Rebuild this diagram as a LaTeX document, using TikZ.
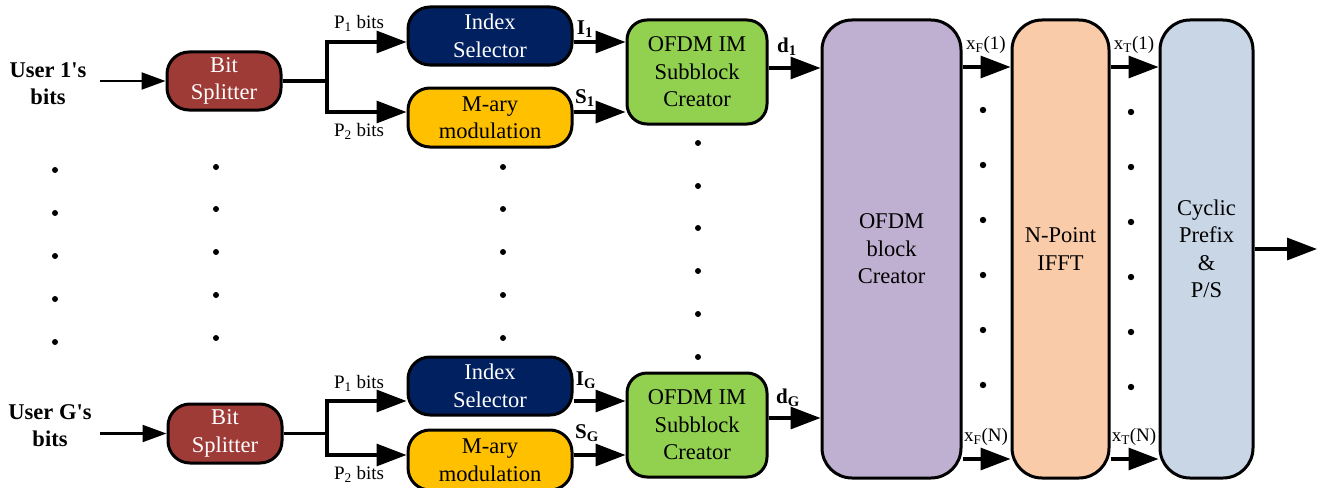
\documentclass[tikz,border=0pt]{standalone}
\usepackage{fontspec}
\setmainfont{Liberation Serif}
\usetikzlibrary{arrows.meta,calc}
\definecolor{splitc}{RGB}{158,59,55}
\definecolor{indexc}{RGB}{0,32,96}
\definecolor{maryc}{RGB}{255,192,0}
\definecolor{subc}{RGB}{146,208,80}
\definecolor{obc}{RGB}{191,176,209}
\definecolor{fftc}{RGB}{249,203,168}
\definecolor{cpc}{RGB}{200,214,229}
\tikzset{
  blk/.style={draw=black, line width=3pt, align=center, inner sep=0pt,
    font=\fontsize{22.5}{27.5}\selectfont},
  smallblk/.style={blk, rounded corners=22pt},
  bigblk/.style={blk, rounded corners=30pt, minimum height=458pt},
  arr/.style={line width=3.2pt, -{Triangle[length=30pt,width=22pt]}},
  thinarr/.style={line width=2.2pt, -{Triangle[length=24pt,width=17pt]}},
  plain/.style={line width=3.2pt},
  lbl/.style={font=\fontsize{19}{22}\selectfont, inner sep=0pt},
  blbl/.style={font=\fontsize{21}{24}\selectfont\bfseries, inner sep=0pt},
  ulbl/.style={font=\fontsize{22.5}{27}\selectfont\bfseries, align=center, inner sep=0pt}
}
\begin{document}
\begin{tikzpicture}[x=1pt,y=-1pt]
\useasboundingbox (0,0) rectangle (1324,487);
\clip (0,0) rectangle (1324,487);

% ---- user 1 chain
\node[ulbl] (u1) at (48,83.5) {User 1\textquotesingle s\\bits};
\node[smallblk, fill=splitc, text=white, minimum width=114pt, minimum height=58pt] (bs1) at (224,81) {Bit\\Splitter};
\node[smallblk, fill=indexc, text=white, minimum width=164pt, minimum height=58pt] (is1) at (490,36) {Index\\Selector};
\node[smallblk, fill=maryc, minimum width=164pt, minimum height=59pt] (mm1) at (490,117.5) {M-ary\\modulation};
\node[blk, rounded corners=20pt, fill=subc, minimum width=140pt, minimum height=104pt] (oc1) at (697,72) {OFDM IM\\Subblock\\Creator};

% ---- user G chain
\node[ulbl] (uG) at (50,425.5) {User G\textquotesingle s\\bits};
\node[smallblk, fill=splitc, text=white, minimum width=114pt, minimum height=59pt] (bsG) at (225,433.5) {Bit\\Splitter};
\node[smallblk, fill=indexc, text=white, minimum width=164pt, minimum height=58pt] (isG) at (490,386) {Index\\Selector};
\node[smallblk, fill=maryc, minimum width=164pt, minimum height=60pt] (mmG) at (490,460) {M-ary\\modulation};
\node[blk, rounded corners=20pt, fill=subc, minimum width=140pt, minimum height=104pt] (ocG) at (697,425) {OFDM IM\\Subblock\\Creator};

% ---- big blocks
\node[bigblk, fill=obc, minimum width=139pt] (ob) at (891.5,249) {OFDM\\block\\Creator};
\node[bigblk, fill=fftc, minimum width=97pt] (ifft) at (1060.5,249) {N-Point\\IFFT};
\node[bigblk, fill=cpc, minimum width=93pt] (cp) at (1206.5,249) {Cyclic\\Prefix\\\&\\P/S};

% ---- coordinates
\coordinate (u1o) at (100,81);
\coordinate (uGo) at (100,433.5);
\coordinate (br1) at (327,81);
\coordinate (br1t) at (327,42);
\coordinate (br1b) at (327,112);
\coordinate (brG) at (327,433.5);
\coordinate (brGt) at (327,401);
\coordinate (brGb) at (327,455);
\coordinate (r1) at (0,67);
\coordinate (rN) at (0,459);
\coordinate (out) at (1317,249);

% ---- connectors user 1
\draw[thinarr] (u1o) -- (bs1.west);
\draw[plain] (bs1.east) -- (br1);
\draw[arr] (br1) -- (br1t) -- (br1t -| is1.west);
\draw[arr] (br1) -- (br1b) -- (br1b -| mm1.west);
\draw[arr] (br1t -| is1.east) -- (br1t -| oc1.west);
\draw[arr] (br1b -| mm1.east) -- (br1b -| oc1.west);
\draw[arr] ([yshift=4pt]oc1.east) -- ([yshift=4pt]oc1.east -| ob.west);

% ---- connectors user G
\draw[thinarr] (uGo) -- (bsG.west);
\draw[plain] (bsG.east) -- (brG);
\draw[arr] (brG) -- (brGt) -- (brGt -| isG.west);
\draw[arr] (brG) -- (brGb) -- (brGb -| mmG.west);
\draw[arr] (brGt -| isG.east) -- (brGt -| ocG.west);
\draw[arr] (brGb -| mmG.east) -- (brGb -| ocG.west);
\draw[arr] ([yshift=7pt]ocG.east) -- ([yshift=7pt]ocG.east -| ob.west);

% ---- right side connectors
\draw[arr] (ob.east |- r1) -- (ifft.west |- r1);
\draw[arr] (ifft.east |- r1) -- (cp.west |- r1);
\draw[arr] (ob.east |- rN) -- (ifft.west |- rN);
\draw[arr] (ifft.east |- rN) -- (cp.west |- rN);
\draw[arr] (cp.east) -- (out);

% ---- labels
\node[lbl] (p11) at (359,23) {P\textsubscript{1} bits};
\node[lbl] (p21) at (359,131) {P\textsubscript{2} bits};
\node[lbl] (p1G) at (359,383) {P\textsubscript{1} bits};
\node[lbl] (p2G) at (359,474) {P\textsubscript{2} bits};
\node[blbl] (l11) at (585,29) {I\textsubscript{1}};
\node[blbl] (s11) at (585,98) {S\textsubscript{1}};
\node[blbl] (lG) at (586,380) {I\textsubscript{G}};
\node[blbl] (sG) at (587,433) {S\textsubscript{G}};
\node[blbl] (d1) at (787,47) {d\textsubscript{1}};
\node[blbl] (dG) at (788,398) {d\textsubscript{G}};
\node[lbl] (xf1) at (986,45) {x\textsubscript{F}(1)};
\node[lbl] (xt1) at (1134,45) {x\textsubscript{T}(1)};
\node[lbl] (xfN) at (986,437) {x\textsubscript{F}(N)};
\node[lbl] (xtN) at (1134,437) {x\textsubscript{T}(N)};

% ---- dots
\foreach \y in {170,213,256,299,342} \fill (55,\y) circle (3pt);
\foreach \y in {167,209,252,295,338} {\fill (216,\y) circle (3pt); \fill (503,\y) circle (3pt);}
\foreach \y in {143,186,228,271,314,357} \fill (698,\y) circle (3pt);
\foreach \y in {110,165,220,275,330,385} {\fill (983,\y) circle (3.2pt); \fill (1131,\y+2) circle (3.2pt);}
\end{tikzpicture}
\end{document}
